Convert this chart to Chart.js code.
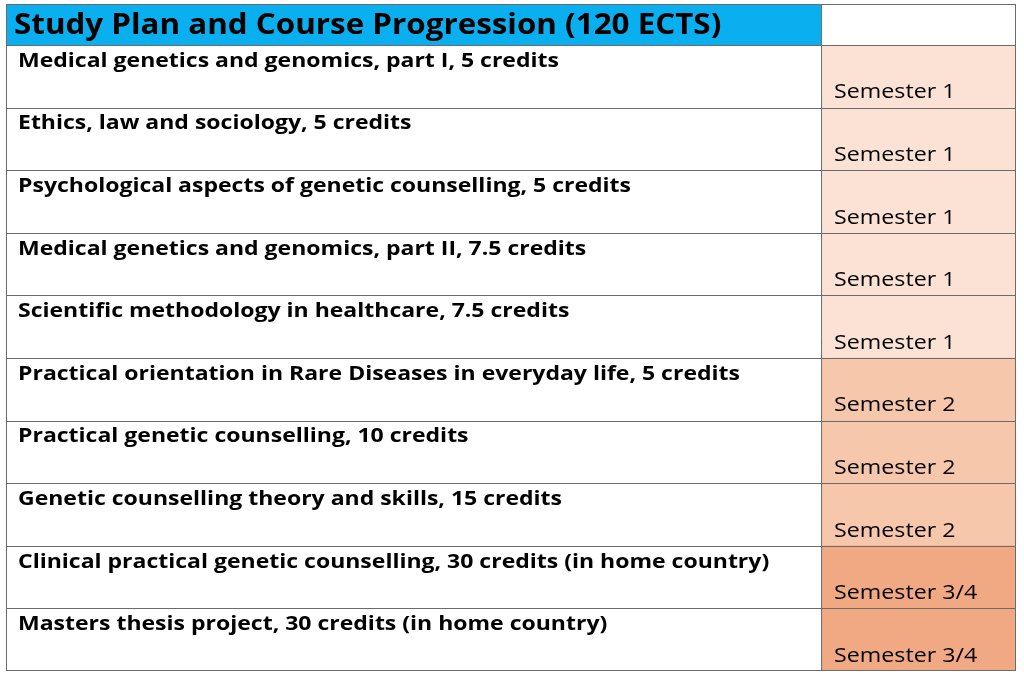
<!DOCTYPE html>
<html><head><meta charset="utf-8">
<script src="https://cdn.jsdelivr.net/npm/chart.js@4/dist/chart.umd.min.js"></script>
<style>html,body{margin:0;background:#fff}#c{display:block}</style>
</head><body>
<div style="width:1024px;height:677px"><canvas id="c"></canvas></div>
<script>
const title = "Study Plan and Course Progression (120 ECTS)";
const courses = [
  "Medical genetics and genomics, part I, 5 credits",
  "Ethics, law and sociology, 5 credits",
  "Psychological aspects of genetic counselling, 5 credits",
  "Medical genetics and genomics, part II, 7.5 credits",
  "Scientific methodology in healthcare, 7.5 credits",
  "Practical orientation in Rare Diseases in everyday life, 5 credits",
  "Practical genetic counselling, 10 credits",
  "Genetic counselling theory and skills, 15 credits",
  "Clinical practical genetic counselling, 30 credits (in home country)",
  "Masters thesis project, 30 credits (in home country)"
];
const semesters = ["Semester 1","Semester 1","Semester 1","Semester 1","Semester 1",
  "Semester 2","Semester 2","Semester 2","Semester 3/4","Semester 3/4"];
const semColors = {"Semester 1":"#FBE2D5","Semester 2":"#F7C7AC","Semester 3/4":"#F1A983"};
const split = 0.807;

// draw text stretched horizontally to mimic the wider original typeface
function wideText(ctx, s, x, y, k) {
  ctx.save();
  ctx.translate(x, y);
  ctx.scale(k, 1);
  ctx.fillText(s, 0, 0);
  ctx.restore();
}

const tablePlugin = {
  id: "table",
  afterDatasetsDraw(chart) {
    const {ctx, chartArea: a, scales: {x, y}} = chart;
    const xs = x.getPixelForValue(split);
    const hTop = 4;
    ctx.save();
    ctx.fillStyle = "#0AAFEF";
    ctx.fillRect(a.left, hTop, xs - a.left, a.top - hTop);
    ctx.strokeStyle = "#6b6b6b";
    ctx.lineWidth = 1;
    ctx.strokeRect(a.left + .5, hTop + .5, a.right - a.left - 1, a.bottom - hTop - 1);
    ctx.beginPath();
    ctx.moveTo(xs + .5, hTop); ctx.lineTo(xs + .5, a.bottom);
    const bounds = [];
    courses.forEach((c, i) => {
      const yc = y.getPixelForValue(i);
      const h = y.getPixelForValue(1) - y.getPixelForValue(0);
      bounds.push([yc - h / 2, yc + h / 2]);
      ctx.moveTo(a.left, Math.round(yc - h / 2) + .5);
      ctx.lineTo(a.right, Math.round(yc - h / 2) + .5);
    });
    ctx.stroke();
    ctx.fillStyle = "#000";
    ctx.textBaseline = "middle";
    ctx.font = "bold 28px 'Open Sans', sans-serif";
    wideText(ctx, title, a.left + 8, (hTop + a.top) / 2 + 2, 1.12);
    courses.forEach((c, i) => {
      const [t, b] = bounds[i];
      ctx.font = "bold 20px 'Open Sans', sans-serif";
      wideText(ctx, c, a.left + 12, t + 16, 1.15);
      ctx.font = "20px 'Open Sans', sans-serif";
      wideText(ctx, semesters[i], xs + 13, b - 15, 1.16);
    });
    ctx.restore();
  }
};

new Chart(document.getElementById("c"), {
  type: "bar",
  data: {
    labels: courses,
    datasets: [
      {data: courses.map(() => [0, split]), backgroundColor: "#ffffff"},
      {data: semesters.map(() => [split, 1]), backgroundColor: semesters.map(s => semColors[s])}
    ]
  },
  options: {
    indexAxis: "y",
    responsive: true,
    maintainAspectRatio: false,
    animation: false,
    layout: {padding: {left: 6, right: 8, top: 45, bottom: 6}},
    datasets: {bar: {grouped: false, barPercentage: 1, categoryPercentage: 1}},
    scales: {
      x: {display: false, min: 0, max: 1},
      y: {display: false}
    },
    plugins: {legend: {display: false}, tooltip: {enabled: false}}
  },
  plugins: [tablePlugin]
});
</script>
</body></html>
